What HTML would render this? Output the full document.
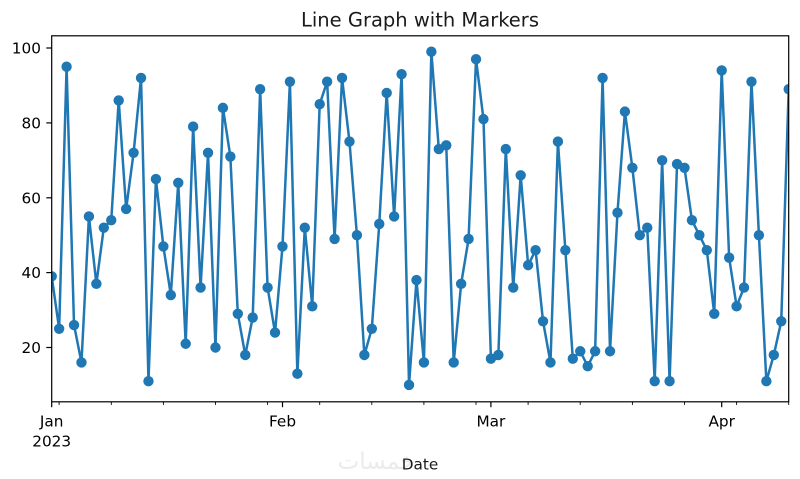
<!DOCTYPE html>
<html><head><meta charset="utf-8"><style>
html,body{margin:0;padding:0;background:#fff;}
svg{display:block;}
text{font-family:"DejaVu Sans","Liberation Sans",sans-serif;fill:#000;}
</style></head><body>
<svg width="800" height="479" viewBox="0 0 800 479" xmlns="http://www.w3.org/2000/svg">
<defs><clipPath id="ax"><rect x="51.7" y="35.8" width="737" height="366"/></clipPath></defs>
<rect width="800" height="479" fill="#fff"/>
<text x="420" y="26.5" font-size="19.5" text-anchor="middle" style="fill:#1a1a1a">Line Graph with Markers</text>
<g clip-path="url(#ax)">
<g transform="matrix(7.4444 0 0 -3.744 51.7 422.38)">
<polyline fill="none" stroke="#1f77b4" stroke-width="2.5" stroke-linejoin="round" vector-effect="non-scaling-stroke" points="0,39 1,25 2,95 3,26 4,16 5,55 6,37 7,52 8,54 9,86 10,57 11,72 12,92 13,11 14,65 15,47 16,34 17,64 18,21 19,79 20,36 21,72 22,20 23,84 24,71 25,29 26,18 27,28 28,89 29,36 30,24 31,47 32,91 33,13 34,52 35,31 36,85 37,91 38,49 39,92 40,75 41,50 42,18 43,25 44,53 45,88 46,55 47,93 48,10 49,38 50,16 51,99 52,73 53,74 54,16 55,37 56,49 57,97 58,81 59,17 60,18 61,73 62,36 63,66 64,42 65,46 66,27 67,16 68,75 69,46 70,17 71,19 72,15 73,19 74,92 75,19 76,56 77,83 78,68 79,50 80,52 81,11 82,70 83,11 84,69 85,68 86,54 87,50 88,46 89,29 90,94 91,44 92,31 93,36 94,91 95,50 96,11 97,18 98,27 99,89"/>
<path fill="none" stroke="#1f77b4" stroke-width="10.4" stroke-linecap="round" vector-effect="non-scaling-stroke" d="M0,39h0M1,25h0M2,95h0M3,26h0M4,16h0M5,55h0M6,37h0M7,52h0M8,54h0M9,86h0M10,57h0M11,72h0M12,92h0M13,11h0M14,65h0M15,47h0M16,34h0M17,64h0M18,21h0M19,79h0M20,36h0M21,72h0M22,20h0M23,84h0M24,71h0M25,29h0M26,18h0M27,28h0M28,89h0M29,36h0M30,24h0M31,47h0M32,91h0M33,13h0M34,52h0M35,31h0M36,85h0M37,91h0M38,49h0M39,92h0M40,75h0M41,50h0M42,18h0M43,25h0M44,53h0M45,88h0M46,55h0M47,93h0M48,10h0M49,38h0M50,16h0M51,99h0M52,73h0M53,74h0M54,16h0M55,37h0M56,49h0M57,97h0M58,81h0M59,17h0M60,18h0M61,73h0M62,36h0M63,66h0M64,42h0M65,46h0M66,27h0M67,16h0M68,75h0M69,46h0M70,17h0M71,19h0M72,15h0M73,19h0M74,92h0M75,19h0M76,56h0M77,83h0M78,68h0M79,50h0M80,52h0M81,11h0M82,70h0M83,11h0M84,69h0M85,68h0M86,54h0M87,50h0M88,46h0M89,29h0M90,94h0M91,44h0M92,31h0M93,36h0M94,91h0M95,50h0M96,11h0M97,18h0M98,27h0M99,89h0"/>
</g>
</g>
<rect x="51.7" y="35.8" width="737" height="366" fill="none" stroke="#000" stroke-width="1.2"/>
<!-- y ticks -->
<g stroke="#000" stroke-width="1.2">
<line x1="46.3" x2="51.7" y1="347.5" y2="347.5"/>
<line x1="46.3" x2="51.7" y1="272.6" y2="272.6"/>
<line x1="46.3" x2="51.7" y1="197.8" y2="197.8"/>
<line x1="46.3" x2="51.7" y1="122.9" y2="122.9"/>
<line x1="46.3" x2="51.7" y1="48" y2="48"/>
</g>
<g font-size="15.3" text-anchor="end" style="fill:#1a1a1a">
<text x="41" y="353.1">20</text>
<text x="41" y="278.2">40</text>
<text x="41" y="203.4">60</text>
<text x="41" y="128.5">80</text>
<text x="41" y="53.6">100</text>
</g>
<!-- x major ticks -->
<g stroke="#000" stroke-width="1.2">
<line x1="51.7" x2="51.7" y1="401.8" y2="407.2"/>
<line x1="282.5" x2="282.5" y1="401.8" y2="407.2"/>
<line x1="490.9" x2="490.9" y1="401.8" y2="407.2"/>
<line x1="721.7" x2="721.7" y1="401.8" y2="407.2"/>
</g>
<!-- x minor ticks (Mondays) -->
<g stroke="#000" stroke-width="0.9">
<line x1="59.1" x2="59.1" y1="401.8" y2="404.9"/>
<line x1="111.3" x2="111.3" y1="401.8" y2="404.9"/>
<line x1="163.4" x2="163.4" y1="401.8" y2="404.9"/>
<line x1="215.5" x2="215.5" y1="401.8" y2="404.9"/>
<line x1="267.6" x2="267.6" y1="401.8" y2="404.9"/>
<line x1="319.7" x2="319.7" y1="401.8" y2="404.9"/>
<line x1="371.8" x2="371.8" y1="401.8" y2="404.9"/>
<line x1="423.9" x2="423.9" y1="401.8" y2="404.9"/>
<line x1="476.0" x2="476.0" y1="401.8" y2="404.9"/>
<line x1="528.1" x2="528.1" y1="401.8" y2="404.9"/>
<line x1="580.2" x2="580.2" y1="401.8" y2="404.9"/>
<line x1="632.4" x2="632.4" y1="401.8" y2="404.9"/>
<line x1="684.5" x2="684.5" y1="401.8" y2="404.9"/>
<line x1="736.6" x2="736.6" y1="401.8" y2="404.9"/>
<line x1="788.7" x2="788.7" y1="401.8" y2="404.9"/>
</g>
<g font-size="15.3" text-anchor="middle" style="fill:#1a1a1a">
<text x="51.7" y="426.5">Jan</text>
<text x="51.7" y="446.5">2023</text>
<text x="282.5" y="426.5">Feb</text>
<text x="490.9" y="426.5">Mar</text>
<text x="721.7" y="426.5">Apr</text>
</g>
<text x="376" y="469" font-size="23" text-anchor="middle" style="fill:#ebebeb" font-family="DejaVu Sans, sans-serif">خمسات</text>
<text x="420" y="469.5" font-size="15.3" text-anchor="middle" style="fill:#1a1a1a">Date</text>
</svg>
</body></html>
